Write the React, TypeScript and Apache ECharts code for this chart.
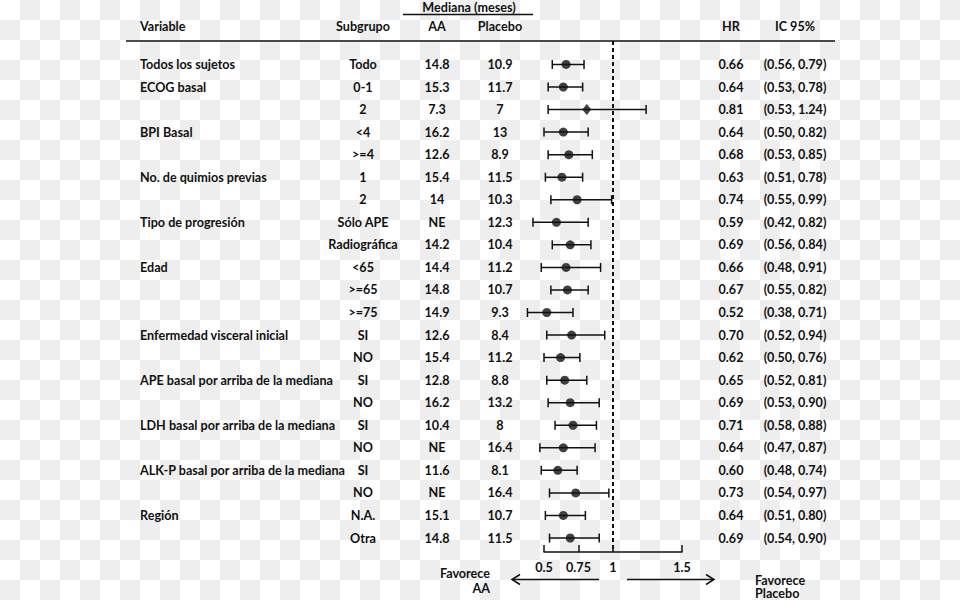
import React, { useEffect, useRef } from "react";
import * as echarts from "echarts";

const rowVariables = [
  "Todos los sujetos", "ECOG basal", "", "BPI Basal", "", "No. de quimios previas", "",
  "Tipo de progresión", "", "Edad", "", "", "Enfermedad visceral inicial", "",
  "APE basal por arriba de la mediana", "", "LDH basal por arriba de la mediana", "",
  "ALK-P basal por arriba de la mediana", "", "Región", "",
];
const subgroups = [
  "Todo", "0-1", "2", "<4", ">=4", "1", "2", "Sólo APE", "Radiográfica", "<65", ">=65", ">=75",
  "SI", "NO", "SI", "NO", "SI", "NO", "SI", "NO", "N.A.", "Otra",
];
const medianAA = [
  "14.8", "15.3", "7.3", "16.2", "12.6", "15.4", "14", "NE", "14.2", "14.4", "14.8", "14.9",
  "12.6", "15.4", "12.8", "16.2", "10.4", "NE", "11.6", "NE", "15.1", "14.8",
];
const medianPlacebo = [
  "10.9", "11.7", "7", "13", "8.9", "11.5", "10.3", "12.3", "10.4", "11.2", "10.7", "9.3",
  "8.4", "11.2", "8.8", "13.2", "8", "16.4", "8.1", "16.4", "10.7", "11.5",
];
const hazardRatios = [
  0.66, 0.64, 0.81, 0.64, 0.68, 0.63, 0.74, 0.59, 0.69, 0.66, 0.67, 0.52,
  0.7, 0.62, 0.65, 0.69, 0.71, 0.64, 0.6, 0.73, 0.64, 0.69,
];
const ciLower = [
  0.56, 0.53, 0.53, 0.5, 0.53, 0.51, 0.55, 0.42, 0.56, 0.48, 0.55, 0.38,
  0.52, 0.5, 0.52, 0.53, 0.58, 0.47, 0.48, 0.54, 0.51, 0.54,
];
const ciUpper = [
  0.79, 0.78, 1.24, 0.82, 0.85, 0.78, 0.99, 0.82, 0.84, 0.91, 0.82, 0.71,
  0.94, 0.76, 0.81, 0.9, 0.88, 0.87, 0.74, 0.97, 0.8, 0.9,
];
const diamondRows = [2];
const xTicks = [0.5, 0.75, 1, 1.5];
const headerLabels = ["Variable", "Subgrupo", "AA", "Placebo", "HR", "IC 95%"];

const FONT = "Lato";
const FS = 12.6;
const INK = "#111";

export default function App() {
  const ref = useRef<HTMLDivElement>(null);

  useEffect(() => {
    if (!ref.current) return;
    const chart = echarts.init(ref.current, undefined, { renderer: "svg" });

    const txt = (text: string, x: number, y: number, align: string, extra: any = {}) => ({
      type: "text",
      x,
      y,
      silent: true,
      style: {
        text,
        fill: INK,
        fontFamily: FONT,
        fontSize: FS,
        fontWeight: "bold",
        align,
        verticalAlign: "middle",
        ...extra,
      },
    });

    const colX = { variable: 140, subgroup: 363, aa: 437, placebo: 500, hr: 731, ic: 795 };

    const option: any = {
      animation: false,
      backgroundColor: "transparent",
      grid: { left: 544, width: 138, top: 41, height: 511 },
      xAxis: {
        type: "value",
        min: 0.5,
        max: 1.5,
        axisLine: { show: true, onZero: false, lineStyle: { color: INK, width: 1.5 } },
        axisTick: {
          show: true,
          inside: true,
          length: 7,
          customValues: xTicks,
          lineStyle: { color: INK, width: 1.5 },
        },
        axisLabel: {
          customValues: xTicks,
          formatter: (v: number) => String(v),
          color: INK,
          fontFamily: FONT,
          fontSize: FS,
          fontWeight: "bold",
          margin: 9,
        },
        splitLine: { show: false },
      },
      yAxis: {
        type: "value",
        inverse: true,
        min: -1.04,
        max: 21.62,
        show: false,
      },
      series: [
        {
          type: "custom",
          name: "ci",
          clip: false,
          silent: true,
          data: hazardRatios.map((_, i) => [i, ciLower[i], ciUpper[i]]),
          encode: { x: [1, 2], y: 0 },
          renderItem: (params: any, api: any) => {
            const i = api.value(0);
            const a = api.coord([api.value(1), i]);
            const b = api.coord([api.value(2), i]);
            const h = 4.5;
            const ls = { stroke: INK, lineWidth: 1.5 };
            return {
              type: "group",
              children: [
                { type: "line", shape: { x1: a[0], y1: a[1], x2: b[0], y2: b[1] }, style: ls },
                { type: "line", shape: { x1: a[0], y1: a[1] - h, x2: a[0], y2: a[1] + h }, style: ls },
                { type: "line", shape: { x1: b[0], y1: b[1] - h, x2: b[0], y2: b[1] + h }, style: ls },
              ],
            };
          },
          markLine: {
            silent: true,
            symbol: "none",
            label: { show: false },
            lineStyle: { color: INK, type: [4, 3], width: 2 },
            data: [{ xAxis: 1 }],
          },
        },
        {
          type: "scatter",
          name: "hr",
          clip: false,
          silent: true,
          data: hazardRatios.map((v, i) =>
            diamondRows.includes(i)
              ? { value: [v, i], symbol: "diamond", symbolSize: [9, 11] }
              : { value: [v, i], symbol: "circle", symbolSize: 9 }
          ),
          itemStyle: { color: INK },
        },
        {
          type: "custom",
          name: "table",
          clip: false,
          silent: true,
          data: hazardRatios.map((_, i) => [1, i]),
          encode: { x: 0, y: 1 },
          renderItem: (params: any, api: any) => {
            const i = params.dataIndex;
            const y = api.coord([1, api.value(1)])[1];
            return {
              type: "group",
              children: [
                txt(rowVariables[i], colX.variable, y, "left"),
                txt(subgroups[i], colX.subgroup, y, "center"),
                txt(medianAA[i], colX.aa, y, "center"),
                txt(medianPlacebo[i], colX.placebo, y, "center"),
                txt(hazardRatios[i].toFixed(2), colX.hr, y, "center"),
                txt(`(${ciLower[i].toFixed(2)}, ${ciUpper[i].toFixed(2)})`, colX.ic, y, "center"),
              ],
            };
          },
        },
      ],
      graphic: [
        txt("Mediana (meses)", 469, 7, "center"),
        { type: "line", silent: true, shape: { x1: 403, y1: 14.5, x2: 533, y2: 14.5 }, style: { stroke: INK, lineWidth: 1.5 } },
        txt(headerLabels[0], colX.variable, 26, "left"),
        txt(headerLabels[1], colX.subgroup, 26, "center"),
        txt(headerLabels[2], colX.aa, 26, "center"),
        txt(headerLabels[3], colX.placebo, 26, "center"),
        txt(headerLabels[4], colX.hr, 26, "center"),
        txt(headerLabels[5], colX.ic, 26, "center"),
        { type: "line", silent: true, shape: { x1: 126, y1: 41, x2: 835, y2: 41 }, style: { stroke: INK, lineWidth: 1.5 } },
        txt("Favorece\nAA", 490, 566.5, "right", { verticalAlign: "top", lineHeight: 14.5 }),
        txt("Favorece\nPlacebo", 755, 573.5, "left", { verticalAlign: "top", lineHeight: 13.5 }),
        { type: "line", silent: true, shape: { x1: 512, y1: 579.5, x2: 599, y2: 579.5 }, style: { stroke: INK, lineWidth: 1.5 } },
        { type: "polyline", silent: true, shape: { points: [[520, 574.5], [512, 579.5], [520, 584.5]] }, style: { stroke: INK, lineWidth: 1.5, fill: "none" } },
        { type: "line", silent: true, shape: { x1: 627, y1: 579.5, x2: 714, y2: 579.5 }, style: { stroke: INK, lineWidth: 1.5 } },
        { type: "polyline", silent: true, shape: { points: [[706, 574.5], [714, 579.5], [706, 584.5]] }, style: { stroke: INK, lineWidth: 1.5, fill: "none" } },
      ],
    };

    chart.setOption(option);
    return () => chart.dispose();
  }, []);

  return (
    <div
      style={{
        position: "fixed",
        left: 0,
        top: 0,
        width: 960,
        height: 600,
        backgroundColor: "#ffffff",
        backgroundImage:
          "conic-gradient(#eeeeee 0 25%, #ffffff 0 50%, #eeeeee 0 75%, #ffffff 0)",
        backgroundSize: "40px 40px",
      }}
    >
      <div ref={ref} style={{ width: 960, height: 600 }} />
    </div>
  );
}
